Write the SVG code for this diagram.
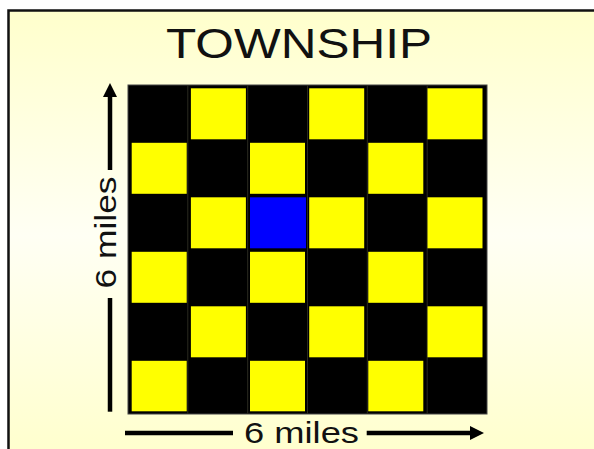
<svg xmlns="http://www.w3.org/2000/svg" width="594" height="449" viewBox="0 0 594 449">
<defs>
<linearGradient id="bg" x1="0" y1="0" x2="0" y2="1">
<stop offset="0" stop-color="#FFFFCC"/>
<stop offset="0.5" stop-color="#FFFFF4"/>
<stop offset="1" stop-color="#FFFFCC"/>
</linearGradient>
<marker id="ah" markerUnits="userSpaceOnUse" markerWidth="14" markerHeight="14" refX="4" refY="7" orient="auto">
<path d="M0,0 L14,7 L0,14 z" fill="#000"/>
</marker>
<style>
.lbl{font-family:"Liberation Sans",Arial,sans-serif;fill:#111;}
.y{fill:#FFFF00;}
.ln{stroke:#000;stroke-width:4.5;fill:none;}
</style>
</defs>
<rect width="594" height="449" fill="#fff"/>
<rect x="8.5" y="10.5" width="600" height="450" fill="url(#bg)" stroke="#111" stroke-width="2.5"/>
<g id="title"><text class="lbl" x="166" y="57.7" font-size="43" textLength="266" lengthAdjust="spacingAndGlyphs">TOWNSHIP</text></g>
<g id="grid">
<rect x="128" y="85" width="359" height="329" fill="#000" stroke="#444" stroke-width="1"/>
<g stroke="#2a2a20" stroke-width="1">
<line x1="187.8" y1="85" x2="187.8" y2="414"/>
<line x1="247.7" y1="85" x2="247.7" y2="414"/>
<line x1="307.5" y1="85" x2="307.5" y2="414"/>
<line x1="367.3" y1="85" x2="367.3" y2="414"/>
<line x1="427.2" y1="85" x2="427.2" y2="414"/>
</g>
<rect class="y" x="190.9" y="88.3" width="55" height="51"/>
<rect class="y" x="309.2" y="88.3" width="55" height="51"/>
<rect class="y" x="427.5" y="88.3" width="55" height="51"/>
<rect class="y" x="131.7" y="142.8" width="55" height="51"/>
<rect class="y" x="250" y="142.8" width="55" height="51"/>
<rect class="y" x="368.3" y="142.8" width="55" height="51"/>
<rect class="y" x="190.9" y="197.3" width="55" height="51"/>
<rect x="250" y="197.3" width="56" height="51" fill="#0000FF"/>
<rect class="y" x="309.2" y="197.3" width="55" height="51"/>
<rect class="y" x="427.5" y="197.3" width="55" height="51"/>
<rect class="y" x="131.7" y="251.8" width="55" height="51"/>
<rect class="y" x="250" y="251.8" width="55" height="51"/>
<rect class="y" x="368.3" y="251.8" width="55" height="51"/>
<rect class="y" x="190.9" y="306.3" width="55" height="51"/>
<rect class="y" x="309.2" y="306.3" width="55" height="51"/>
<rect class="y" x="427.5" y="306.3" width="55" height="51"/>
<rect class="y" x="131.7" y="360.8" width="55" height="50.5"/>
<rect class="y" x="250" y="360.8" width="55" height="50.5"/>
<rect class="y" x="368.3" y="360.8" width="55" height="50.5"/>
</g>
<g id="connectors">
<line class="ln" x1="110" y1="170" x2="110" y2="93" marker-end="url(#ah)"/>
<line class="ln" x1="110" y1="298" x2="110" y2="411.7"/>
<line class="ln" x1="125" y1="433" x2="233" y2="433"/>
<line class="ln" x1="366.7" y1="433" x2="474" y2="433" marker-end="url(#ah)"/>
</g>
<g id="labels">
<text class="lbl" x="244" y="443.3" font-size="30" textLength="115" lengthAdjust="spacingAndGlyphs">6 miles</text>
<text class="lbl" transform="translate(115.5,232.5) rotate(-90)" x="0" y="0" text-anchor="middle" font-size="30" textLength="112" lengthAdjust="spacingAndGlyphs">6 miles</text>
</g>
</svg>
